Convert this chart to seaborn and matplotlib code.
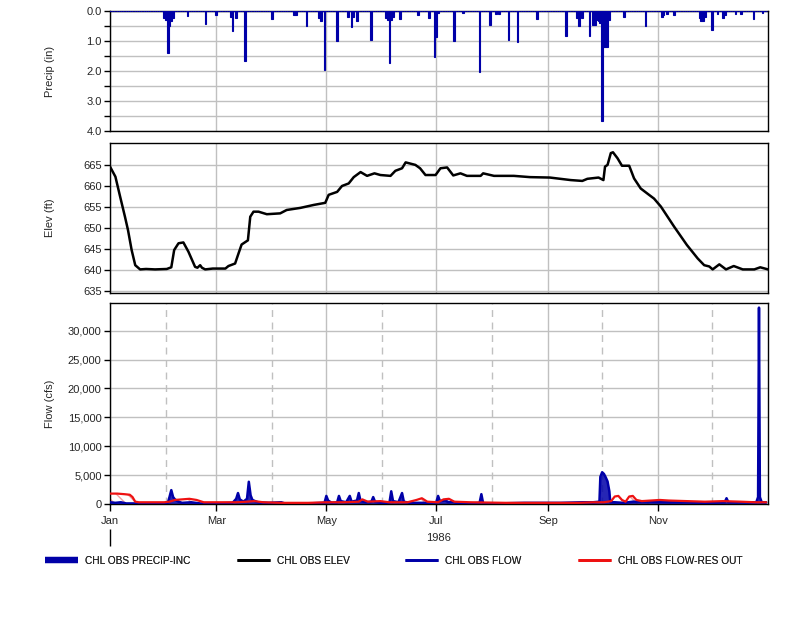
import matplotlib
matplotlib.use("Agg")
import numpy as np
import pandas as pd
import matplotlib.pyplot as plt
import matplotlib.dates as mdates
from matplotlib.ticker import MultipleLocator, FuncFormatter, FixedLocator
from matplotlib.lines import Line2D
import seaborn as sns

# ---------------- data (day of year 1986, value) ----------------
precip_days = [30, 31, 32, 33, 34, 35, 43, 53, 59, 67, 68, 70, 75, 90, 102, 103, 109, 116, 117, 119,
               126, 132, 134, 135, 137, 145, 153, 154, 155, 156, 157, 161, 171, 177, 180, 181, 182,
               191, 196, 205, 211, 214, 216, 221, 226, 237, 253, 259, 260, 262, 266, 268, 269, 270,
               271, 272, 273, 274, 275, 276, 277, 285, 297, 306, 307, 309, 313, 327, 328, 329, 330,
               334, 337, 340, 341, 347, 350, 357, 362]
precip_vals = [0.25, 0.3, 1.39, 0.5, 0.35, 0.25, 0.17, 0.43, 0.15, 0.2, 0.66, 0.25, 1.67, 0.27, 0.12,
               0.15, 0.5, 0.25, 0.33, 1.97, 1.0, 0.2, 0.52, 0.2, 0.35, 0.97, 0.25, 0.3, 1.74, 0.3, 0.2,
               0.27, 0.15, 0.25, 1.52, 0.87, 0.05, 0.99, 0.05, 2.03, 0.47, 0.1, 0.1, 0.97, 1.02, 0.27,
               0.85, 0.25, 0.5, 0.25, 0.82, 0.47, 0.47, 0.3, 0.35, 0.4, 3.66, 1.19, 1.19, 1.19, 0.3,
               0.2, 0.5, 0.2, 0.15, 0.1, 0.15, 0.25, 0.33, 0.33, 0.2, 0.63, 0.1, 0.25, 0.15, 0.1, 0.1,
               0.27, 0.05]

elev_days = [0, 3, 5.6, 8.3, 10, 12, 14, 16.7, 20, 25, 31.5, 34, 35.6, 38, 40.7, 43.5, 47.2, 48.5,
             50, 51, 52.8, 57, 64, 65.7, 69.4, 71.3, 73, 76.5, 77.8, 79.6, 82.4, 87, 94.4, 98,
             105.6, 113, 119.4, 121.3, 126, 128.7, 132.4, 135.2, 139, 142.6, 146.7, 150, 155.6,
             158.3, 162, 164, 169.4, 172, 175, 180.6, 183.3, 187, 190.4, 194.4, 198, 205.6, 207,
             213, 224, 233, 244, 255.6, 262, 264.8, 271, 273.7, 274.6, 276, 277.8, 279, 281.5,
             284, 288, 290.7, 294.4, 299, 301.8, 305.6, 313, 320, 326, 329.6, 332.4, 334.3, 338,
             341.7, 346, 351, 357.4, 360.7, 365]
elev_vals = [664.6, 662.2, 657.5, 652.7, 649.5, 644.8, 641.2, 640.2, 640.3, 640.2, 640.3, 640.7,
             644.8, 646.4, 646.6, 644.4, 640.8, 640.6, 641.2, 640.6, 640.2, 640.4, 640.4, 641.0,
             641.6, 644.0, 646.1, 647.1, 652.7, 653.9, 653.9, 653.3, 653.5, 654.3, 654.8, 655.5,
             656.0, 657.9, 658.6, 660.0, 660.6, 662.1, 663.3, 662.4, 663.0, 662.6, 662.4, 663.6,
             664.2, 665.6, 665.0, 664.2, 662.6, 662.6, 664.2, 664.4, 662.5, 663.0, 662.4, 662.4,
             663.0, 662.4, 662.4, 662.1, 662.0, 661.4, 661.2, 661.7, 662.0, 661.4, 664.6, 665.0,
             667.8, 668.0, 666.6, 664.8, 664.8, 661.8, 659.4, 657.9, 657.0, 655.1, 650.3, 646.0,
             642.8, 641.2, 640.9, 640.2, 641.4, 640.2, 641.0, 640.2, 640.2, 640.7, 640.2]

flow_days = [0, 3, 6, 9, 15, 32, 33, 34, 35, 36, 38, 40, 45, 50, 60, 68, 70, 71, 72, 74, 76, 77, 78,
             79, 82, 88, 95, 97, 110, 119, 120, 121, 123, 126, 127, 128, 131, 133, 134, 137, 138,
             139, 142, 145, 146, 147, 150, 155, 156, 157, 160, 162, 163, 166, 175, 181, 182, 183,
             186, 188, 190, 192, 200, 205, 206, 207, 215, 230, 250, 262, 268, 271.5, 272, 273, 274,
             275, 276, 277, 277.5, 280, 285, 290, 300, 310, 320, 330, 341, 342, 343, 350, 358.5,
             359.5, 360, 360.5, 361.5, 364]
flow_vals = [300, 200, 300, 100, 100, 100, 1200, 2400, 1200, 800, 400, 200, 300, 100, 100, 200, 900,
             1900, 800, 400, 900, 3850, 1500, 700, 300, 200, 300, 100, 100, 200, 1400, 600, 200, 300,
             1400, 500, 300, 1400, 400, 600, 1900, 500, 300, 400, 1200, 400, 200, 200, 2200, 500,
             300, 1900, 400, 200, 200, 300, 1400, 500, 600, 300, 400, 200, 100, 200, 1700, 100, 100,
             200, 200, 300, 300, 400, 4700, 5500, 5200, 4600, 3900, 2200, 300, 300, 200, 400, 400,
             300, 300, 200, 300, 1000, 300, 300, 300, 1200, 34000, 1200, 300, 300]

resout_days = [0, 4, 8, 11, 12.5, 14, 16, 25, 30, 33, 36, 40, 44, 48, 52, 60, 70, 76, 80, 85, 95,
               110, 120, 130, 138, 140, 143, 150, 155, 165, 170, 173, 176, 182, 185, 188, 191, 200,
               220, 240, 260, 268, 274, 278, 280, 282, 284, 286, 288, 290, 292, 295, 300, 305, 310,
               320, 330, 340, 350, 358, 364]
resout_vals = [1800, 1800, 1700, 1600, 1200, 400, 300, 300, 300, 400, 700, 800, 900, 700, 300, 300,
               300, 400, 500, 300, 200, 200, 300, 300, 400, 800, 400, 500, 300, 300, 700, 1000, 400,
               300, 800, 900, 400, 300, 200, 200, 200, 300, 300, 500, 1300, 1400, 700, 400, 1300,
               1400, 700, 500, 600, 700, 600, 500, 400, 500, 400, 300, 300]

series_names = ["CHL OBS PRECIP-INC", "CHL OBS ELEV", "CHL OBS FLOW", "CHL OBS FLOW-RES OUT"]
month_labels = ["Jan", "Mar", "May", "Jul", "Sep", "Nov"]
month_numbers = [1, 3, 5, 7, 9, 11]
elev_ticks = [635, 640, 645, 650, 655, 660, 665]
year_label = "1986"

# ---------------- helpers ----------------
base = pd.Timestamp("1986-01-01")


def to_dates(days):
    return base + pd.to_timedelta(np.asarray(days, dtype=float), unit="D")


BLUE = "#0000a8"
RED = "#ee1111"
GRID = "#c0c0c0"

sns.set_style("white")
plt.rcParams["font.family"] = ["Liberation Sans", "DejaVu Sans"]
plt.rcParams["font.size"] = 8

fig = plt.figure(figsize=(8.0, 6.27), dpi=100)
W, H = 800.0, 627.0
left, right = 110 / W, 768 / W


def add_ax(top_px, bot_px):
    return fig.add_axes([left, 1 - bot_px / H, right - left, (bot_px - top_px) / H])


ax1 = add_ax(11, 131)
ax2 = add_ax(143, 293)
ax3 = add_ax(303, 504)

xmin, xmax = base, base + pd.Timedelta(days=365)
major_dates = [pd.Timestamp(1986, m, 1) for m in month_numbers]
minor_dates = [pd.Timestamp(1986, m + 1, 1) for m in month_numbers]

# ---- precip ----
pv = np.zeros(365)
pv[np.asarray(precip_days)] = precip_vals
pdf = pd.DataFrame({"date": to_dates(np.arange(365)), "precip": pv})
ax1.bar(pdf["date"], pdf["precip"], width=1.0, color=BLUE, edgecolor=BLUE, linewidth=0.8, zorder=3)
ax1.set_ylim(4.0, 0.0)
ax1.yaxis.set_major_locator(MultipleLocator(1.0))
ax1.yaxis.set_minor_locator(MultipleLocator(0.5))
ax1.yaxis.set_major_formatter(FuncFormatter(lambda v, p: f"{v:.1f}"))
ax1.set_ylabel("Precip (in)")

# ---- elevation ----
edf = pd.DataFrame({"date": to_dates(elev_days), "elev": elev_vals})
sns.lineplot(data=edf, x="date", y="elev", ax=ax2, color="black", linewidth=1.8, zorder=3)
ax2.set_ylim(634.6, 670.2)
ax2.yaxis.set_major_locator(FixedLocator(elev_ticks))
ax2.set_ylabel("Elev (ft)")

# ---- flow ----
fdf = pd.DataFrame({"date": to_dates(flow_days), "flow": flow_vals})
rdf = pd.DataFrame({"date": to_dates(resout_days), "flow": resout_vals})
ax3.fill_between(rdf["date"], 0, rdf["flow"], facecolor="none", edgecolor="#f0a0a0", hatch="\\\\\\",
                 linewidth=0, zorder=2)
ax3.fill_between(fdf["date"], 0, fdf["flow"], color=BLUE, alpha=0.85, linewidth=0, zorder=2)
sns.lineplot(data=fdf, x="date", y="flow", ax=ax3, color=BLUE, linewidth=1.8, zorder=3)
sns.lineplot(data=rdf, x="date", y="flow", ax=ax3, color=RED, linewidth=1.6, zorder=4)
ax3.set_ylim(0, 34800)
ax3.yaxis.set_major_locator(MultipleLocator(5000))
ax3.yaxis.set_major_formatter(FuncFormatter(lambda v, p: f"{int(v):,}"))
ax3.set_ylabel("Flow (cfs)")

for ax in (ax1, ax2, ax3):
    ax.set_xlim(xmin, xmax)
    ax.xaxis.set_major_locator(FixedLocator(mdates.date2num(major_dates)))
    ax.set_xlabel("")
    ax.grid(True, which="major", axis="both", color=GRID, linewidth=1.0, zorder=0)
    ax.set_axisbelow(True)
    for s in ax.spines.values():
        s.set_color("black")
        s.set_linewidth(1.0)
    ax.tick_params(axis="y", which="both", direction="out", length=4, width=1, color="black",
                   labelsize=8, left=True, pad=2)
    ax.yaxis.set_label_coords(-55 / 658, 0.5)
    ax.yaxis.label.set_size(8)

ax1.grid(True, which="minor", axis="y", color=GRID, linewidth=1.0, zorder=0)

for ax in (ax1, ax2):
    ax.tick_params(axis="x", which="both", bottom=False, labelbottom=False)

ax3.xaxis.set_minor_locator(FixedLocator(mdates.date2num(minor_dates)))
ax3.xaxis.set_major_formatter(FuncFormatter(
    lambda v, p: month_labels[month_numbers.index(mdates.num2date(v).month)]))
ax3.grid(True, which="minor", axis="x", color=GRID, linestyle=(0, (5, 4)), linewidth=1.0, zorder=0)
ax3.tick_params(axis="x", which="major", direction="out", length=5, width=1, color="black",
                labelsize=8, bottom=True, pad=4)
ax3.tick_params(axis="x", which="minor", bottom=False)

# year marker
sec = ax3.secondary_xaxis(-42 / 201)
sec.set_xticks([mdates.date2num(base)])
sec.set_xticklabels([""])
sec.tick_params(axis="x", direction="in", length=12, width=1, color="black")
sec.spines["bottom"].set_visible(False)
ax3.text(0.5, -0.167, year_label, transform=ax3.transAxes, ha="center", va="center", fontsize=8)

# legend: one entry per anchor position along the bottom
handles = [Line2D([], [], color=BLUE, linewidth=4.5, solid_capstyle="butt"),
           Line2D([], [], color="black", linewidth=2, solid_capstyle="butt"),
           Line2D([], [], color=BLUE, linewidth=2, solid_capstyle="butt"),
           Line2D([], [], color=RED, linewidth=2, solid_capstyle="butt")]
legend_x_px = [45, 237, 405, 578]
for h, name, xp in zip(handles, series_names, legend_x_px):
    leg = fig.legend([h], [name], loc="center left", bbox_to_anchor=(xp / W, 1 - 561 / H),
                     frameon=False, handlelength=3.3, handletextpad=0.65,
                     borderpad=0, borderaxespad=0,
                     prop={"family": ["Liberation Sans", "DejaVu Sans"], "size": 7.3})
    fig.add_artist(leg)

fig.savefig("out.png", dpi=100)
